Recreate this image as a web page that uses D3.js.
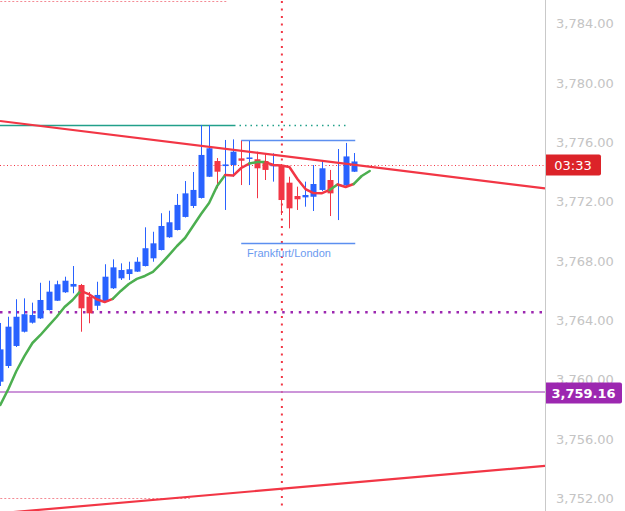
<!DOCTYPE html>
<html>
<head>
<meta charset="utf-8">
<script src="https://cdn.jsdelivr.net/npm/d3@7"></script>
<style>
  html, body { margin: 0; padding: 0; background: #fff; }
  svg { display: block; }
</style>
</head>
<body>
<div id="chart"></div>
<script>
// candles, one per bar index 0..44
const opens  = [3759.86, 3760.92, 3762.27, 3763.23, 3763.84, 3764.13, 3764.69, 3765.32, 3765.89, 3766.27,
                3766.38, 3765.59, 3764.98, 3765.25, 3766.16, 3766.83, 3767.12, 3767.28, 3767.66, 3768.18,
                3768.74, 3769.60, 3770.09, 3770.97, 3771.71, 3772.25, 3773.68, 3774.74, 3774.40, 3774.47,
                3774.92, 3774.88, 3774.86, 3774.74, 3774.44, 3774.47, 3773.28, 3772.38, 3772.29, 3772.33,
                3772.79, 3773.46, 3773.06, 3773.09, 3774.02];
const highs  = [3763.82, 3764.24, 3765.42, 3765.48, 3765.19, 3766.53, 3766.67, 3766.67, 3766.94, 3767.66,
                3766.45, 3765.91, 3766.60, 3767.78, 3768.11, 3767.84, 3767.95, 3768.25, 3770.27, 3769.97,
                3771.22, 3771.39, 3772.52, 3773.39, 3774.00, 3777.17, 3777.17, 3774.94, 3776.16, 3776.20,
                3776.11, 3776.09, 3775.37, 3775.26, 3775.26, 3774.54, 3773.68, 3773.01, 3773.35, 3774.47,
                3774.81, 3774.14, 3775.55, 3775.96, 3775.28];
const lows   = [3759.57, 3760.78, 3762.20, 3763.18, 3763.78, 3764.09, 3764.66, 3765.30, 3765.85, 3765.82,
                3763.23, 3763.80, 3764.69, 3765.20, 3766.11, 3766.72, 3766.72, 3767.26, 3767.63, 3767.95,
                3768.71, 3769.56, 3770.06, 3770.93, 3771.57, 3772.21, 3773.66, 3772.90, 3771.44, 3773.68,
                3773.12, 3773.12, 3772.23, 3773.46, 3773.35, 3771.10, 3770.20, 3771.44, 3771.66, 3771.37,
                3772.72, 3771.03, 3770.76, 3773.06, 3774.00];
const closes = [3762.04, 3763.57, 3764.24, 3764.41, 3764.36, 3765.37, 3765.93, 3766.43, 3766.67, 3766.45,
                3764.81, 3764.47, 3765.71, 3766.94, 3767.57, 3767.39, 3767.44, 3767.95, 3768.86, 3769.19,
                3770.36, 3770.61, 3771.78, 3772.56, 3772.79, 3775.15, 3775.60, 3774.02, 3774.51, 3775.37,
                3774.76, 3774.98, 3774.25, 3774.14, 3774.49, 3772.11, 3771.55, 3772.16, 3772.45, 3773.19,
                3774.25, 3772.56, 3773.16, 3775.05, 3774.71];

// moving average (runs two bars past the last candle) and its trend per segment
const maValues = [3758.29, 3759.37, 3760.58, 3761.59, 3762.47, 3763.01, 3763.62, 3764.22, 3764.90, 3765.37,
                  3765.98, 3765.77, 3765.42, 3765.23, 3765.44, 3765.98, 3766.45, 3766.79, 3766.99, 3767.26,
                  3767.80, 3768.40, 3769.01, 3769.55, 3770.36, 3771.17, 3771.91, 3773.06, 3773.80, 3773.76,
                  3774.27, 3774.57, 3774.67, 3774.67, 3774.47, 3774.44, 3774.34, 3773.53, 3772.85, 3772.58,
                  3772.56, 3772.79, 3773.16, 3772.99, 3773.19, 3773.73, 3774.07];
const maTrend = [1,1,1,1,1,1,1,1,1,1, -1,-1,-1,-1, 1,1,1,1,1,1,1,1,1,1,1,1,1,1,
                 -1,-1,-1, 1,1, -1,-1,-1,-1,-1,-1,-1,-1, 1, -1,-1, 1,1];

// price axis
const priceTicks = [3752, 3756, 3760, 3764, 3768, 3772, 3776, 3780, 3784];
const lastPrice = 3774.47;
const countdown = "03:33";
const markedPrice = 3759.16;
const dottedLevel = 3764.54;

// drawings: [barIndex, price] anchors
const downTrend = [[-0.04, 3777.44], [67.83, 3772.89]];
const upTrend = [[-0.04, 3750.99], [67.83, 3754.18]];
const highLevel = {price: 3777.17, from: -1, solidTo: 29.1, dottedTo: 43.2};
const topRange = {price: 3785.53, from: -1, to: 28.2};
const bottomRange = {price: 3752.00, from: -1, to: 23.6};
const session = {name: "Frankfurt/London", from: 30, to: 44.2, top: 3776.16, bottom: 3769.19};
const sessionStart = 35;

const width = 625, height = 511, plotRight = 545;
const blue = "#2962ff", red = "#f23645", green = "#4caf50";

const x = d3.scaleLinear().domain([-0.04, 67.83]).range([0, plotRight]);
const y = d3.scaleLinear().domain([3785.598, 3751.141]).range([0, height]);

const svg = d3.select("#chart").append("svg")
  .attr("width", width).attr("height", height);

svg.append("defs").append("clipPath").attr("id", "plot")
  .append("rect").attr("x", 0).attr("y", 0).attr("width", plotRight).attr("height", height);

const plot = svg.append("g").attr("clip-path", "url(#plot)");

// range lines
[topRange, bottomRange].forEach(r => {
  plot.append("line")
    .attr("x1", x(r.from)).attr("x2", x(r.to))
    .attr("y1", Math.round(y(r.price)) + 0.5).attr("y2", Math.round(y(r.price)) + 0.5)
    .attr("stroke", "#f48a94").attr("stroke-width", 1).attr("stroke-dasharray", "2,2");
});

// vertical session start
plot.append("line")
  .attr("x1", x(sessionStart) + 0.5).attr("x2", x(sessionStart) + 0.5)
  .attr("y1", 1).attr("y2", height)
  .attr("stroke", red).attr("stroke-width", 2).attr("stroke-dasharray", "2,5.5");

// green high level
const hy = Math.round(y(highLevel.price)) + 0.5;
plot.append("line").attr("x1", x(highLevel.from)).attr("x2", x(highLevel.solidTo))
  .attr("y1", hy).attr("y2", hy).attr("stroke", "#22a08a").attr("stroke-width", 1.5);
plot.append("line").attr("x1", x(highLevel.solidTo)).attr("x2", x(highLevel.dottedTo))
  .attr("y1", hy).attr("y2", hy).attr("stroke", "#22a08a").attr("stroke-width", 1.5)
  .attr("stroke-dasharray", "1.5,4");

// session box
[session.top, session.bottom].forEach(p => {
  plot.append("line").attr("x1", x(session.from)).attr("x2", x(session.to))
    .attr("y1", Math.round(y(p)) + 0.5).attr("y2", Math.round(y(p)) + 0.5)
    .attr("stroke", "#5c8ff0").attr("stroke-width", 1.3);
});
plot.append("text")
  .attr("x", 289).attr("y", y(session.bottom) + 14)
  .attr("text-anchor", "middle")
  .attr("font-family", "Liberation Sans, Arial, sans-serif").attr("font-size", 11)
  .attr("fill", "#6b9bf0")
  .text(session.name);

// purple levels
plot.append("line").attr("x1", 0).attr("x2", plotRight)
  .attr("y1", y(dottedLevel)).attr("y2", y(dottedLevel))
  .attr("stroke", "#9c27b0").attr("stroke-width", 2.5).attr("stroke-dasharray", "2.5,5.8");
plot.append("line").attr("x1", 0).attr("x2", plotRight)
  .attr("y1", y(markedPrice)).attr("y2", y(markedPrice))
  .attr("stroke", "#bb72cc").attr("stroke-width", 1.5);

// last price line
plot.append("line").attr("x1", 0).attr("x2", plotRight)
  .attr("y1", Math.round(y(lastPrice)) + 0.5).attr("y2", Math.round(y(lastPrice)) + 0.5)
  .attr("stroke", red).attr("stroke-width", 1).attr("stroke-dasharray", "1,2.5");

// candles
const candles = opens.map((o, i) => ({i, o, h: highs[i], l: lows[i], c: closes[i]}));
const bodyW = 6;
const cg = plot.selectAll("g.candle").data(candles).enter().append("g").attr("class", "candle");
cg.append("line")
  .attr("x1", d => Math.round(x(d.i)) + 0.5).attr("x2", d => Math.round(x(d.i)) + 0.5)
  .attr("y1", d => y(d.h)).attr("y2", d => y(d.l))
  .attr("stroke", d => d.c >= d.o ? blue : red).attr("stroke-width", 1);
cg.append("rect")
  .attr("x", d => Math.round(x(d.i)) + 0.5 - bodyW / 2)
  .attr("width", bodyW)
  .attr("y", d => y(Math.max(d.o, d.c)))
  .attr("height", d => Math.max(1.5, Math.abs(y(d.o) - y(d.c))))
  .attr("fill", d => d.c >= d.o ? blue : red);

// moving average, split into coloured runs
const line = d3.line().x(d => x(d[0])).y(d => y(d[1]));
let start = 0;
for (let k = 1; k <= maTrend.length; k++) {
  if (k === maTrend.length || maTrend[k] !== maTrend[start]) {
    const pts = d3.range(start, k + 1).map(j => [j, maValues[j]]);
    plot.append("path").attr("d", line(pts))
      .attr("fill", "none")
      .attr("stroke", maTrend[start] > 0 ? green : red)
      .attr("stroke-width", 2.5)
      .attr("stroke-linejoin", "round").attr("stroke-linecap", "round");
    start = k;
  }
}

// trend lines
[downTrend, upTrend].forEach(t => {
  plot.append("path").attr("d", line(t))
    .attr("fill", "none").attr("stroke", red).attr("stroke-width", 2.2);
});

// price axis
svg.append("line").attr("x1", plotRight + 0.5).attr("x2", plotRight + 0.5)
  .attr("y1", 0).attr("y2", height).attr("stroke", "#c9c9c9").attr("stroke-width", 1);

const axis = d3.axisRight(y).tickValues(priceTicks).tickSize(0).tickPadding(0)
  .tickFormat(d3.format(",.2f"));
const ag = svg.append("g").attr("transform", `translate(${plotRight + 11},0)`).call(axis);
ag.select(".domain").remove();
ag.selectAll("text")
  .attr("font-family", "DejaVu Sans, sans-serif").attr("font-size", 13)
  .attr("fill", "#c4c4c4").attr("dy", "0.32em");

// countdown label
const ly = y(lastPrice);
svg.append("path")
  .attr("d", `M${plotRight + 1},${ly - 10.5} h53 a2,2 0 0 1 2,2 v17 a2,2 0 0 1 -2,2 h-53 z`)
  .attr("fill", "#dc2329");
svg.append("text").attr("x", plotRight + 28).attr("y", ly).attr("dy", "0.36em")
  .attr("text-anchor", "middle")
  .attr("font-family", "DejaVu Sans, sans-serif").attr("font-size", 13).attr("fill", "#fff")
  .text(countdown);

// marked price label
const my = y(markedPrice);
svg.append("path")
  .attr("d", `M${plotRight + 1},${my - 9.5} h74 a2,2 0 0 1 2,2 v17 a2,2 0 0 1 -2,2 h-74 z`)
  .attr("fill", "#9c27b0");
svg.append("text").attr("x", plotRight + 38.5).attr("y", my + 1).attr("dy", "0.36em")
  .attr("text-anchor", "middle")
  .attr("font-family", "DejaVu Sans, sans-serif").attr("font-size", 13).attr("font-weight", "bold")
  .attr("fill", "#fff")
  .text(d3.format(",.2f")(markedPrice));
</script>
</body>
</html>
